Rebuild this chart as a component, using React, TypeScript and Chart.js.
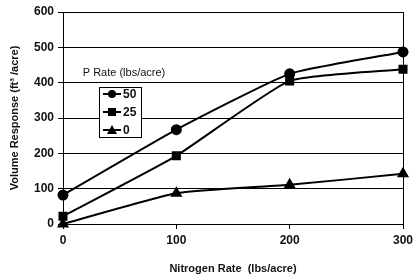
import React, { useEffect, useRef } from "react";
import { Chart, registerables } from "chart.js";

Chart.register(...registerables);

const nitrogen = [0, 100, 200, 300];
const p50 = [82, 267, 425, 487];
const p25 = [22, 193, 405, 438];
const p0 = [0, 87, 111, 142];
const seriesLabels = ["50", "25", "0"];
const markerStyles = ["circle", "rect", "triangle"];
const legendTitle = "P Rate (lbs/acre)";
const xTitle = "Nitrogen Rate  (lbs/acre)";
const yTitle = "Volume Response (ft\u00B3 /acre)";

const FONT = "'Liberation Sans', Arial, sans-serif";

const legendPlugin = {
  id: "insideLegend",
  afterDatasetsDraw(chart: any) {
    const ctx = chart.ctx;
    const area = chart.chartArea;
    ctx.save();
    ctx.strokeStyle = "#000";
    ctx.lineWidth = 1;
    ctx.strokeRect(Math.round(area.left) + 0.5, Math.round(area.top) + 0.5, Math.round(area.right - area.left), Math.round(area.bottom - area.top));
    ctx.fillStyle = "#111";
    ctx.font = `11px ${FONT}`;
    ctx.textAlign = "center";
    ctx.textBaseline = "middle";
    ctx.fillText(legendTitle, 124, 73);
    ctx.fillStyle = "#fff";
    ctx.fillRect(99, 87, 43, 51);
    ctx.strokeStyle = "#000";
    ctx.strokeRect(99.5, 87.5, 42, 50);
    const ys = [94, 112, 130];
    seriesLabels.forEach((lab, i) => {
      const y = ys[i];
      ctx.strokeStyle = "#000";
      ctx.lineWidth = 2;
      ctx.beginPath();
      ctx.moveTo(103, y);
      ctx.lineTo(121, y);
      ctx.stroke();
      ctx.fillStyle = "#000";
      const cx = 112;
      const st = markerStyles[i];
      ctx.beginPath();
      if (st === "circle") {
        ctx.arc(cx, y, 4, 0, Math.PI * 2);
      } else if (st === "rect") {
        ctx.rect(cx - 4, y - 4, 8, 8);
      } else {
        ctx.moveTo(cx, y - 5);
        ctx.lineTo(cx + 5, y + 4);
        ctx.lineTo(cx - 5, y + 4);
        ctx.closePath();
      }
      ctx.fill();
      ctx.font = `bold 12px ${FONT}`;
      ctx.textAlign = "left";
      ctx.fillStyle = "#111";
      ctx.fillText(lab, 123, y + 1);
    });
    ctx.restore();
  },
};

export default function App() {
  const ref = useRef<HTMLCanvasElement>(null);
  useEffect(() => {
    document.body.style.margin = "0";
    const mk = (vals: number[], i: number) => ({
      label: seriesLabels[i],
      data: nitrogen.map((x, j) => ({ x, y: vals[j] })),
      showLine: true,
      borderColor: "#000",
      backgroundColor: "#000",
      borderWidth: 2,
      pointStyle: markerStyles[i],
      pointRadius: i === 0 ? 4.5 : 5,
      tension: 0.15,
      clip: false,
    });
    const chart = new Chart(ref.current!, {
      type: "scatter",
      data: { datasets: [mk(p50, 0), mk(p25, 1), mk(p0, 2)] },
      options: {
        animation: false,
        responsive: false,
        layout: { padding: { top: 12, right: 17, left: 4, bottom: 0 } },
        plugins: { legend: { display: false }, tooltip: { enabled: false } },
        scales: {
          x: {
            type: "linear",
            min: 0,
            max: 300,
            ticks: { stepSize: 100, color: "#111", font: { family: FONT, size: 12, weight: "bold" }, padding: 4 },
            grid: { drawOnChartArea: false, drawTicks: true, tickLength: 5, color: "#000" },
            border: { color: "#000" },
            title: { display: true, text: xTitle, color: "#111", font: { family: FONT, size: 11, weight: "bold" }, padding: { top: 6 } },
            afterFit: (s: any) => { s.height = 56; },
          },
          y: {
            min: 0,
            max: 600,
            ticks: { stepSize: 100, color: "#111", font: { family: FONT, size: 12, weight: "bold" }, padding: 4 },
            grid: { color: "#000", tickLength: 5 },
            border: { color: "#000" },
            title: { display: true, text: yTitle, color: "#111", font: { family: FONT, size: 11, weight: "bold" } },
            afterFit: (s: any) => { s.width = 59; },
          },
        },
      },
      plugins: [legendPlugin],
    } as any);
    return () => chart.destroy();
  }, []);
  return (
    <div style={{ position: "absolute", left: 0, top: 0, width: 420, height: 280, background: "#fff" }}>
      <canvas ref={ref} width={420} height={280} />
    </div>
  );
}
